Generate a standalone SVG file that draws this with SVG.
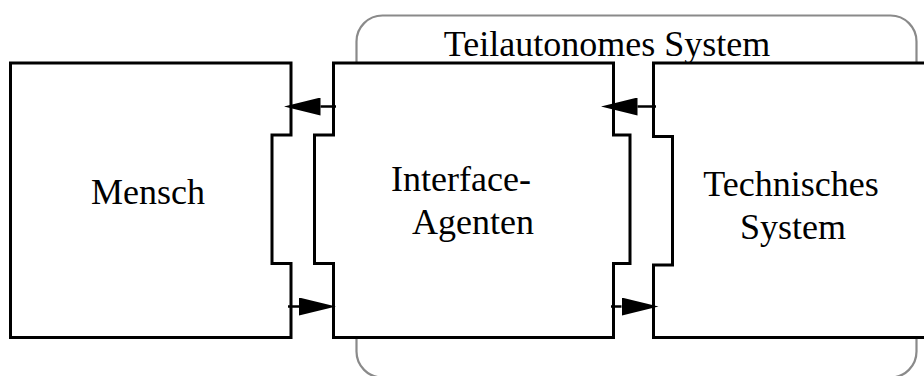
<svg xmlns="http://www.w3.org/2000/svg" width="924" height="376" viewBox="0 0 924 376">
  <style>
    .box { fill: #ffffff; stroke: #000000; stroke-width: 3; stroke-linejoin: miter; }
    .frame { fill: #ffffff; stroke: #8a8a8a; stroke-width: 2.2; }
    .lbl { font-family: "Liberation Serif", "Times New Roman", serif; font-size: 36px; fill: #000000; }
    .conn { fill: none; stroke: #000000; stroke-width: 2.5; }
  </style>
  <defs>
    <marker id="head" viewBox="0 0 37 18" markerWidth="37" markerHeight="18" refX="0" refY="9" orient="auto" markerUnits="userSpaceOnUse">
      <path d="M0,0 L37,9 L0,18 Z" fill="#000000"/>
    </marker>
  </defs>
  <rect width="924" height="376" fill="#ffffff"/>
  <g id="teilautonomes-system">
    <rect class="frame" x="356.5" y="15.5" width="560" height="362" rx="26" ry="26"/>
    <text class="lbl" x="607" y="56" text-anchor="middle">Teilautonomes System</text>
  </g>
  <g id="mensch">
    <path class="box" d="M10.5,63 H291 V135 H272 V263.5 H291 V337.5 H10.5 Z"/>
    <text class="lbl" x="148" y="204" text-anchor="middle">Mensch</text>
  </g>
  <g id="interface-agenten">
    <path class="box" d="M333.5,63 H613.5 V135 H630 V263.5 H613.5 V337.5 H333.5 V263.5 H314.5 V135 H333.5 Z"/>
    <text class="lbl" x="391" y="191">Interface-</text>
    <text class="lbl" x="412" y="233.5">Agenten</text>
  </g>
  <g id="technisches-system">
    <path class="box" d="M653.5,63 H930 V337.5 H653.5 V265 H672.5 V136.5 H653.5 Z"/>
    <text class="lbl" x="791" y="196" text-anchor="middle">Technisches</text>
    <text class="lbl" x="793" y="239" text-anchor="middle">System</text>
  </g>
  <g id="connectors">
    <path class="conn" d="M336,106.5 H320.5" marker-end="url(#head)"/>
    <path class="conn" d="M288,306.5 H299" marker-end="url(#head)"/>
    <path class="conn" d="M656,106.5 H637.5" marker-end="url(#head)"/>
    <path class="conn" d="M611,306.5 H621.5" marker-end="url(#head)"/>
  </g>
</svg>
